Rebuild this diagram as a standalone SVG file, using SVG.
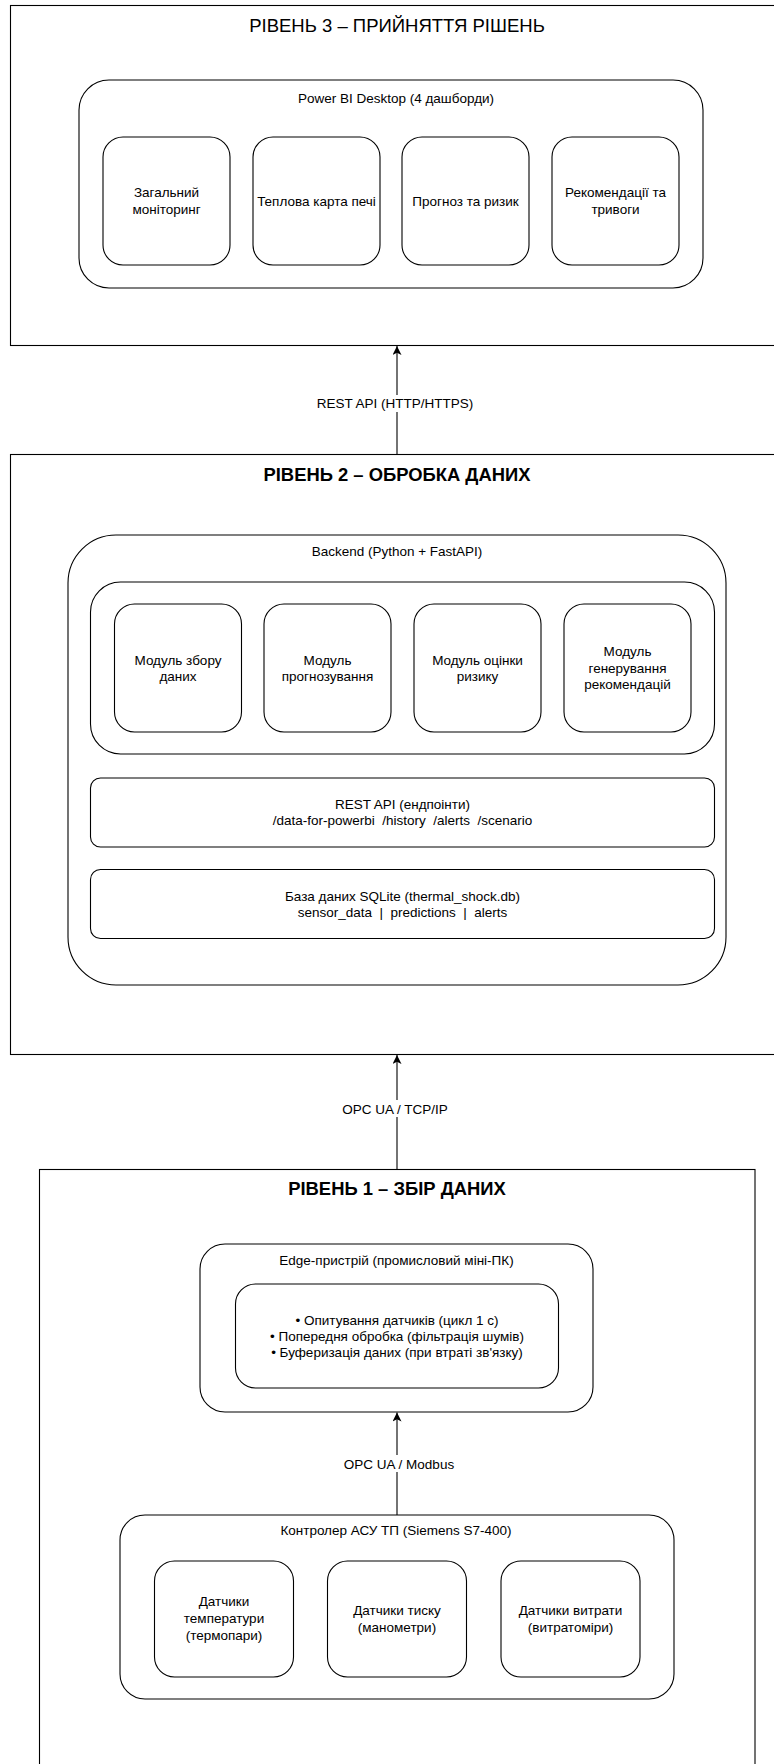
<svg xmlns="http://www.w3.org/2000/svg" width="774" height="1764" viewBox="0 0 774 1764">
<style>
  .frame{fill:#fff;stroke:#000;stroke-width:1.1}
  .box{fill:#fff;stroke:#000;stroke-width:1.1}
  text{font-family:"Liberation Sans",Arial,Helvetica,sans-serif;fill:#000;text-anchor:middle}
  .t{font-size:13.5px}
  .h3{font-size:18.5px}
  .hb{font-size:18.4px;font-weight:bold}
  .edge{stroke:#000;stroke-width:1.1;fill:none}
  .lbl{fill:#fff;stroke:none}
</style>
<defs>
  <marker id="arr" markerUnits="userSpaceOnUse" markerWidth="10" markerHeight="9" refX="9" refY="4.5" orient="auto">
    <path d="M0,0 L9,4.5 L0,9 L2.2,4.5 Z" fill="#000"/>
  </marker>
</defs>
<rect width="774" height="1764" fill="#fff"/>

<g id="level3">
  <rect class="frame" x="10.5" y="5.5" width="800" height="340"/>
  <text class="h3" x="397" y="31.5">РІВЕНЬ 3 – ПРИЙНЯТТЯ РІШЕНЬ</text>
</g>
<g id="powerbi">
  <rect class="box" x="79" y="80" width="624" height="208" rx="30" ry="30"/>
  <text class="t" x="396" y="102.5">Power BI Desktop (4 дашборди)</text>
</g>
<g id="dash1">
  <rect class="box" x="103" y="137" width="127" height="128" rx="20" ry="20"/>
  <text class="t" x="166.5" y="197">Загальний</text>
  <text class="t" x="166.5" y="214">моніторинг</text>
</g>
<g id="dash2">
  <rect class="box" x="253" y="137" width="127" height="128" rx="20" ry="20"/>
  <text class="t" x="316.5" y="205.5">Теплова карта печі</text>
</g>
<g id="dash3">
  <rect class="box" x="402" y="137" width="127" height="128" rx="20" ry="20"/>
  <text class="t" x="465.5" y="205.5">Прогноз та ризик</text>
</g>
<g id="dash4">
  <rect class="box" x="552" y="137" width="127" height="128" rx="20" ry="20"/>
  <text class="t" x="615.5" y="197">Рекомендації та</text>
  <text class="t" x="615.5" y="214">тривоги</text>
</g>

<g id="level2">
  <rect class="frame" x="10.5" y="454.5" width="800" height="600"/>
  <text class="hb" x="397" y="480.5">РІВЕНЬ 2 – ОБРОБКА ДАНИХ</text>
</g>
<g id="backend">
  <rect class="box" x="68" y="535" width="658" height="450" rx="48" ry="48"/>
  <text class="t" x="397" y="555.5">Backend (Python + FastAPI)</text>
</g>
<g id="modules">
  <rect class="box" x="90.5" y="582" width="624" height="172" rx="30" ry="30"/>
</g>
<g id="mod1">
  <rect class="box" x="114.5" y="604" width="127" height="128" rx="20" ry="20"/>
  <text class="t" x="178" y="664.5">Модуль збору</text>
  <text class="t" x="178" y="681">даних</text>
</g>
<g id="mod2">
  <rect class="box" x="264" y="604" width="127" height="128" rx="20" ry="20"/>
  <text class="t" x="327.5" y="664.5">Модуль</text>
  <text class="t" x="327.5" y="681">прогнозування</text>
</g>
<g id="mod3">
  <rect class="box" x="414" y="604" width="127" height="128" rx="20" ry="20"/>
  <text class="t" x="477.5" y="664.5">Модуль оцінки</text>
  <text class="t" x="477.5" y="681">ризику</text>
</g>
<g id="mod4">
  <rect class="box" x="564" y="604" width="127" height="128" rx="20" ry="20"/>
  <text class="t" x="627.5" y="656">Модуль</text>
  <text class="t" x="627.5" y="672.5">генерування</text>
  <text class="t" x="627.5" y="689">рекомендацій</text>
</g>
<g id="restapi">
  <rect class="box" x="90.5" y="778" width="624" height="69" rx="10" ry="10"/>
  <text class="t" x="402.5" y="808.5">REST API (ендпоінти)</text>
  <text class="t" x="402.5" y="825" xml:space="preserve">/data-for-powerbi  /history  /alerts  /scenario</text>
</g>
<g id="database">
  <rect class="box" x="90.5" y="869.5" width="624" height="69" rx="10" ry="10"/>
  <text class="t" x="402.5" y="900.5">База даних SQLite (thermal_shock.db)</text>
  <text class="t" x="402.5" y="917" xml:space="preserve">sensor_data  |  predictions  |  alerts</text>
</g>

<g id="level1">
  <rect class="frame" x="39.5" y="1169.5" width="715.5" height="640"/>
  <text class="hb" x="397" y="1195">РІВЕНЬ 1 – ЗБІР ДАНИХ</text>
</g>
<g id="edgedevice">
  <rect class="box" x="200" y="1244" width="393" height="168" rx="25" ry="25"/>
  <text class="t" x="396.5" y="1265">Edge-пристрій (промисловий міні-ПК)</text>
</g>
<g id="edgefunctions">
  <rect class="box" x="235.5" y="1284" width="323" height="104" rx="20" ry="20"/>
  <text class="t" x="397" y="1324.5">• Опитування датчиків (цикл 1 с)</text>
  <text class="t" x="397" y="1340.5">• Попередня обробка (фільтрація шумів)</text>
  <text class="t" x="397" y="1357">• Буферизація даних (при втраті зв'язку)</text>
</g>
<g id="controller">
  <rect class="box" x="120" y="1515" width="554" height="184" rx="25" ry="25"/>
  <text class="t" x="396" y="1535">Контролер АСУ ТП (Siemens S7-400)</text>
</g>
<g id="sensor1">
  <rect class="box" x="154.5" y="1561" width="139" height="116" rx="20" ry="20"/>
  <text class="t" x="224" y="1606">Датчики</text>
  <text class="t" x="224" y="1623">температури</text>
  <text class="t" x="224" y="1640">(термопари)</text>
</g>
<g id="sensor2">
  <rect class="box" x="327.5" y="1561" width="139" height="116" rx="20" ry="20"/>
  <text class="t" x="397" y="1614.5">Датчики тиску</text>
  <text class="t" x="397" y="1631.5">(манометри)</text>
</g>
<g id="sensor3">
  <rect class="box" x="501" y="1561" width="139" height="116" rx="20" ry="20"/>
  <text class="t" x="570.5" y="1614.5">Датчики витрати</text>
  <text class="t" x="570.5" y="1631.5">(витратоміри)</text>
</g>

<g id="connectors">
  <line class="edge" x1="397" y1="454" x2="397" y2="346" marker-end="url(#arr)"/>
  <rect class="lbl" x="320" y="395" width="150" height="17"/>
  <text class="t" x="395" y="407.5">REST API (HTTP/HTTPS)</text>

  <line class="edge" x1="397" y1="1169" x2="397" y2="1055" marker-end="url(#arr)"/>
  <rect class="lbl" x="343" y="1100" width="104" height="17"/>
  <text class="t" x="395" y="1113.5">OPC UA / TCP/IP</text>

  <line class="edge" x1="397" y1="1515" x2="397" y2="1412.5" marker-end="url(#arr)"/>
  <rect class="lbl" x="346" y="1455" width="107" height="17"/>
  <text class="t" x="399" y="1468.5">OPC UA / Modbus</text>
</g>
</svg>
